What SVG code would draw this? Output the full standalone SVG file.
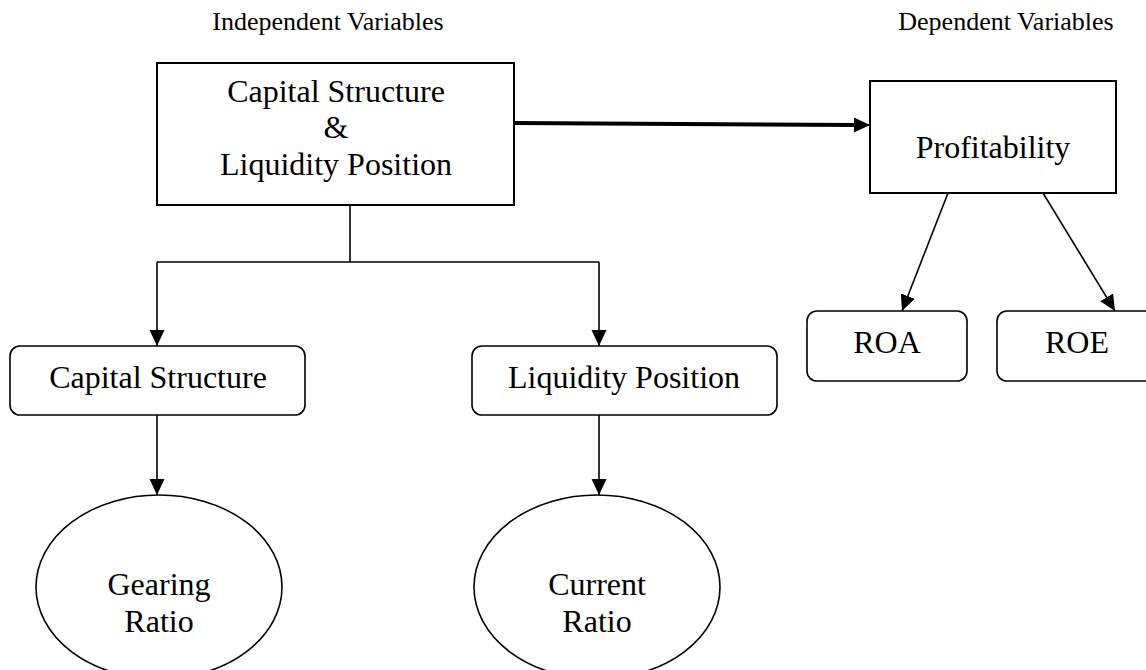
<svg xmlns="http://www.w3.org/2000/svg" width="1146" height="670" viewBox="0 0 1146 670">
<style>
text{font-family:"Liberation Serif","Times New Roman",serif;fill:#000;text-anchor:middle}
.t32{font-size:32px}
.t26{font-size:26px}
.box{fill:#fff;stroke:#000;stroke-width:2}
.rbox{fill:#fff;stroke:#000;stroke-width:1.6}
.ell{fill:#fff;stroke:#000;stroke-width:1.6}
.ln{fill:none;stroke:#000;stroke-width:1.6}
.thick{fill:none;stroke:#000;stroke-width:4}
</style>
<defs>
<marker id="ah" markerUnits="userSpaceOnUse" markerWidth="16" markerHeight="16" viewBox="0 0 16 16" refX="16" refY="8" orient="auto">
<path d="M0,0.5 L16,8 L0,15.5 Z" fill="#000"/>
</marker>
</defs>
<rect width="1146" height="670" fill="#fff"/>
<g id="labels">
<text class="t26" x="328" y="30">Independent Variables</text>
<text class="t26" x="1006" y="30">Dependent Variables</text>
</g>
<g id="connectors">
<path class="thick" d="M514,123 L856,125"/>
<path class="ln" d="M856,125 L870,125" marker-end="url(#ah)"/>
<path class="ln" d="M350,205 L350,262 M157,262 L599,262"/>
<path class="ln" d="M157,262 L157,346" marker-end="url(#ah)"/>
<path class="ln" d="M599,262 L599,346" marker-end="url(#ah)"/>
<path class="ln" d="M157,415 L157,495" marker-end="url(#ah)"/>
<path class="ln" d="M599,415 L599,495" marker-end="url(#ah)"/>
<path class="ln" d="M948,193 L902,311" marker-end="url(#ah)"/>
<path class="ln" d="M1043,193 L1115,311" marker-end="url(#ah)"/>
</g>
<g id="main">
<rect class="box" x="157" y="63" width="357" height="142"/>
<text class="t32" x="336" y="102">Capital Structure</text>
<text class="t32" x="336" y="138">&amp;</text>
<text class="t32" x="336" y="175">Liquidity Position</text>
</g>
<g id="profitability">
<rect class="box" x="870" y="81" width="246" height="112"/>
<text class="t32" x="993" y="158">Profitability</text>
</g>
<g id="roa">
<rect class="rbox" x="807" y="311" width="160" height="70" rx="10"/>
<text class="t32" x="887" y="353">ROA</text>
</g>
<g id="roe">
<rect class="rbox" x="997" y="311" width="160" height="70" rx="10"/>
<text class="t32" x="1077" y="353">ROE</text>
</g>
<g id="capital">
<rect class="rbox" x="10" y="346" width="295" height="69" rx="10"/>
<text class="t32" x="158" y="388">Capital Structure</text>
</g>
<g id="liquidity">
<rect class="rbox" x="472" y="346" width="305" height="69" rx="10"/>
<text class="t32" x="624" y="388">Liquidity Position</text>
</g>
<g id="gearing">
<ellipse class="ell" cx="159" cy="587" rx="123" ry="92"/>
<text class="t32" x="159" y="595">Gearing</text>
<text class="t32" x="159" y="632">Ratio</text>
</g>
<g id="current">
<ellipse class="ell" cx="597" cy="587" rx="123" ry="92"/>
<text class="t32" x="597" y="595">Current</text>
<text class="t32" x="597" y="632">Ratio</text>
</g>
</svg>
